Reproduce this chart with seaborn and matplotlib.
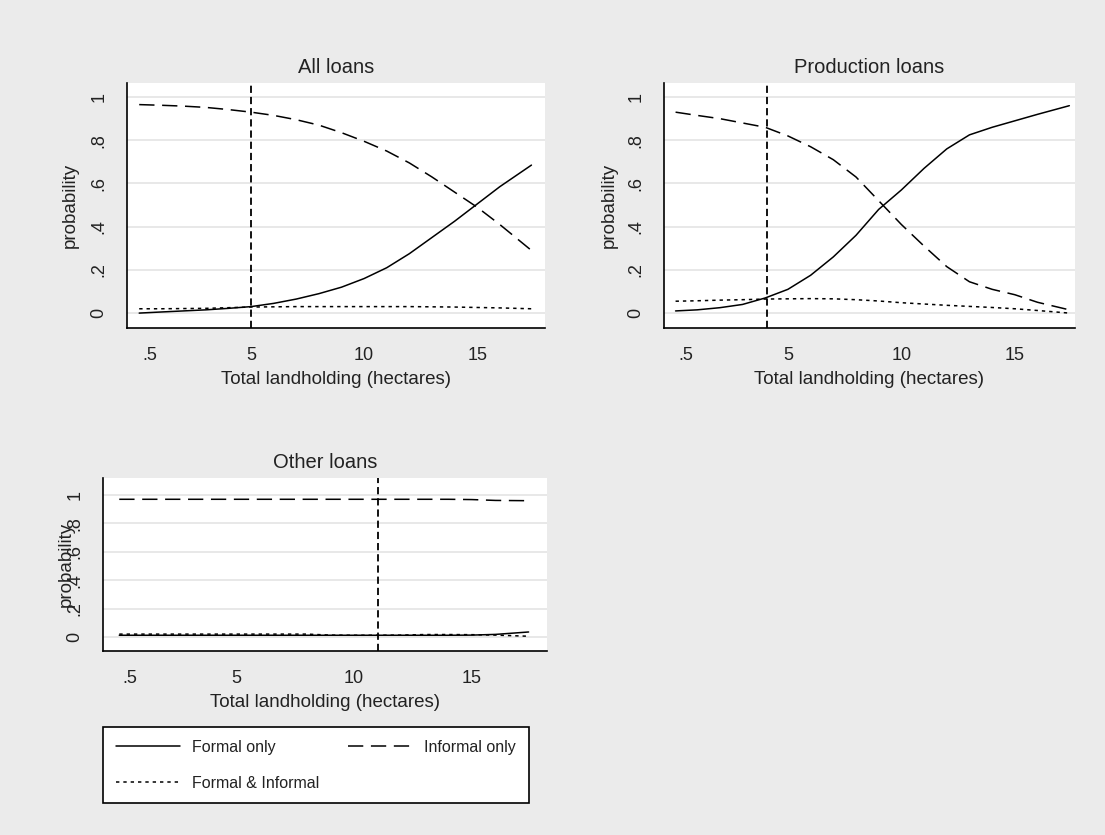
import numpy as np
import pandas as pd
import matplotlib
matplotlib.use('Agg')
from matplotlib import pyplot as plt
from matplotlib.lines import Line2D
import seaborn as sns

# land size grid (hectares) shared by all panels
land = [0.05, 1, 2, 3, 4, 5, 6, 7, 8, 9, 10, 11, 12, 13, 14, 15, 16, 17.4]

# All loans
all_formal = [0.0, 0.005, 0.01, 0.015, 0.022, 0.03, 0.045, 0.065, 0.09, 0.12, 0.16, 0.21, 0.275, 0.35, 0.425, 0.505, 0.585, 0.685]
all_informal = [0.965, 0.962, 0.958, 0.952, 0.942, 0.93, 0.915, 0.895, 0.87, 0.835, 0.795, 0.75, 0.695, 0.63, 0.56, 0.49, 0.41, 0.29]
all_both = [0.02, 0.02, 0.021, 0.022, 0.025, 0.028, 0.029, 0.03, 0.03, 0.03, 0.03, 0.03, 0.03, 0.029, 0.028, 0.026, 0.024, 0.02]

# Production loans
prod_formal = [0.01, 0.015, 0.025, 0.04, 0.07, 0.11, 0.175, 0.26, 0.36, 0.48, 0.57, 0.67, 0.76, 0.825, 0.86, 0.89, 0.92, 0.96]
prod_informal = [0.93, 0.915, 0.9, 0.88, 0.86, 0.82, 0.77, 0.71, 0.63, 0.52, 0.41, 0.31, 0.215, 0.145, 0.11, 0.085, 0.05, 0.015]
prod_both = [0.055, 0.057, 0.06, 0.062, 0.065, 0.066, 0.067, 0.066, 0.062, 0.056, 0.048, 0.042, 0.036, 0.031, 0.026, 0.02, 0.012, 0.0]

# Other loans
other_formal = [0.012, 0.012, 0.012, 0.012, 0.012, 0.012, 0.012, 0.012, 0.012, 0.012, 0.012, 0.012, 0.012, 0.012, 0.012, 0.013, 0.018, 0.035]
other_informal = [0.97, 0.97, 0.97, 0.97, 0.97, 0.97, 0.97, 0.97, 0.97, 0.97, 0.97, 0.97, 0.97, 0.97, 0.97, 0.968, 0.962, 0.96]
other_both = [0.02, 0.02, 0.02, 0.02, 0.02, 0.02, 0.02, 0.02, 0.02, 0.013, 0.012, 0.012, 0.013, 0.017, 0.017, 0.016, 0.013, 0.005]

titles = ['All loans', 'Production loans', 'Other loans']
cutoffs = [5, 4.07, 11]
types = ['Formal only', 'Informal only', 'Formal & Informal']
yticks = [0, 0.2, 0.4, 0.6, 0.8, 1]
ytick_labels = ['0', '.2', '.4', '.6', '.8', '1']
xticks = [0.5, 5, 10, 15]
xtick_labels = ['.5', '5', '10', '15']

dash_map = {'Formal only': '', 'Informal only': (10, 5), 'Formal & Informal': (2.2, 2.6)}


def long_frame(formal, informal, both):
    parts = []
    for name, vals in zip(types, [formal, informal, both]):
        parts.append(pd.DataFrame({'land': land, 'prob': vals, 'type': name}))
    return pd.concat(parts, ignore_index=True)


sns.set_style('white')
plt.rcParams['font.family'] = ['Liberation Sans', 'DejaVu Sans']
plt.rcParams['text.color'] = '#222222'
plt.rcParams['axes.labelcolor'] = '#222222'
plt.rcParams['xtick.color'] = 'black'
plt.rcParams['ytick.color'] = 'black'
plt.rcParams['xtick.labelcolor'] = '#222222'
plt.rcParams['ytick.labelcolor'] = '#222222'

fig = plt.figure(figsize=(11.05, 8.35), dpi=100, facecolor='#ebebeb')

W, H = 1105, 835
boxes = [(127, 545, 83, 328), (664, 1075, 83, 328), (103, 547, 478, 651)]
xlims = [(-0.49, 18.0), (-0.46, 17.65), (-0.64, 18.18)]
ylims = [(-0.069, 1.065), (-0.069, 1.065), (-0.099, 1.12)]
ylab_x = [-0.115, -0.112, -0.063]
frames = [long_frame(all_formal, all_informal, all_both),
          long_frame(prod_formal, prod_informal, prod_both),
          long_frame(other_formal, other_informal, other_both)]

for i in range(3):
    l, r, t, b = boxes[i]
    ax = fig.add_axes([l / W, 1 - b / H, (r - l) / W, (b - t) / H])
    ax.set_facecolor('white')
    for y in yticks:
        ax.axhline(y, color='#e2e2e2', linewidth=1.1, zorder=0)
    sns.lineplot(data=frames[i], x='land', y='prob', style='type', style_order=types,
                 dashes=dash_map, color='black', linewidth=1.1, legend=False,
                 estimator=None, ax=ax)
    ax.axvline(cutoffs[i], color='black', linewidth=1.3, linestyle=(0, (4, 2.2)))
    ax.set_xlim(*xlims[i])
    ax.set_ylim(*ylims[i])
    ax.set_xticks(xticks)
    ax.set_xticklabels(xtick_labels, fontsize=13)
    ax.set_yticks(yticks)
    ax.set_yticklabels(ytick_labels, fontsize=13, rotation=90, va='center')
    ax.tick_params(axis='both', direction='out', length=7, width=1.1, pad=7)
    for side in ['top', 'right']:
        ax.spines[side].set_visible(False)
    for side in ['left', 'bottom']:
        ax.spines[side].set_color('black')
        ax.spines[side].set_linewidth(1.2)
    ax.set_title(titles[i], fontsize=14.5, pad=7)
    ax.set_xlabel('Total landholding (hectares)', fontsize=13.5, labelpad=5)
    ax.set_ylabel('probability', fontsize=13.5)
    ax.yaxis.set_label_coords(ylab_x[i], 0.5)

# legend: row 1 Formal only / Informal only, row 2 Formal & Informal
h_formal = Line2D([], [], color='black', linewidth=1.1, linestyle='-')
h_informal = Line2D([], [], color='black', linewidth=1.1, linestyle=(0, (10, 5)))
h_both = Line2D([], [], color='black', linewidth=1.1, linestyle=(0, (2.2, 2.6)))
leg = fig.legend([h_formal, h_both, h_informal],
                 ['Formal only', 'Formal & Informal', 'Informal only'],
                 loc='upper left', bbox_to_anchor=(103 / W, 1 - 800 / H, 426 / W, 73 / H),
                 mode='expand', ncol=2, fontsize=11.5, handlelength=4.0, labelspacing=1.3,
                 borderpad=0.8, fancybox=False, edgecolor='black', framealpha=1,
                 borderaxespad=0, columnspacing=2.0)
leg.get_frame().set_linewidth(1.2)

fig.savefig('out.png', dpi=100, facecolor=fig.get_facecolor())
